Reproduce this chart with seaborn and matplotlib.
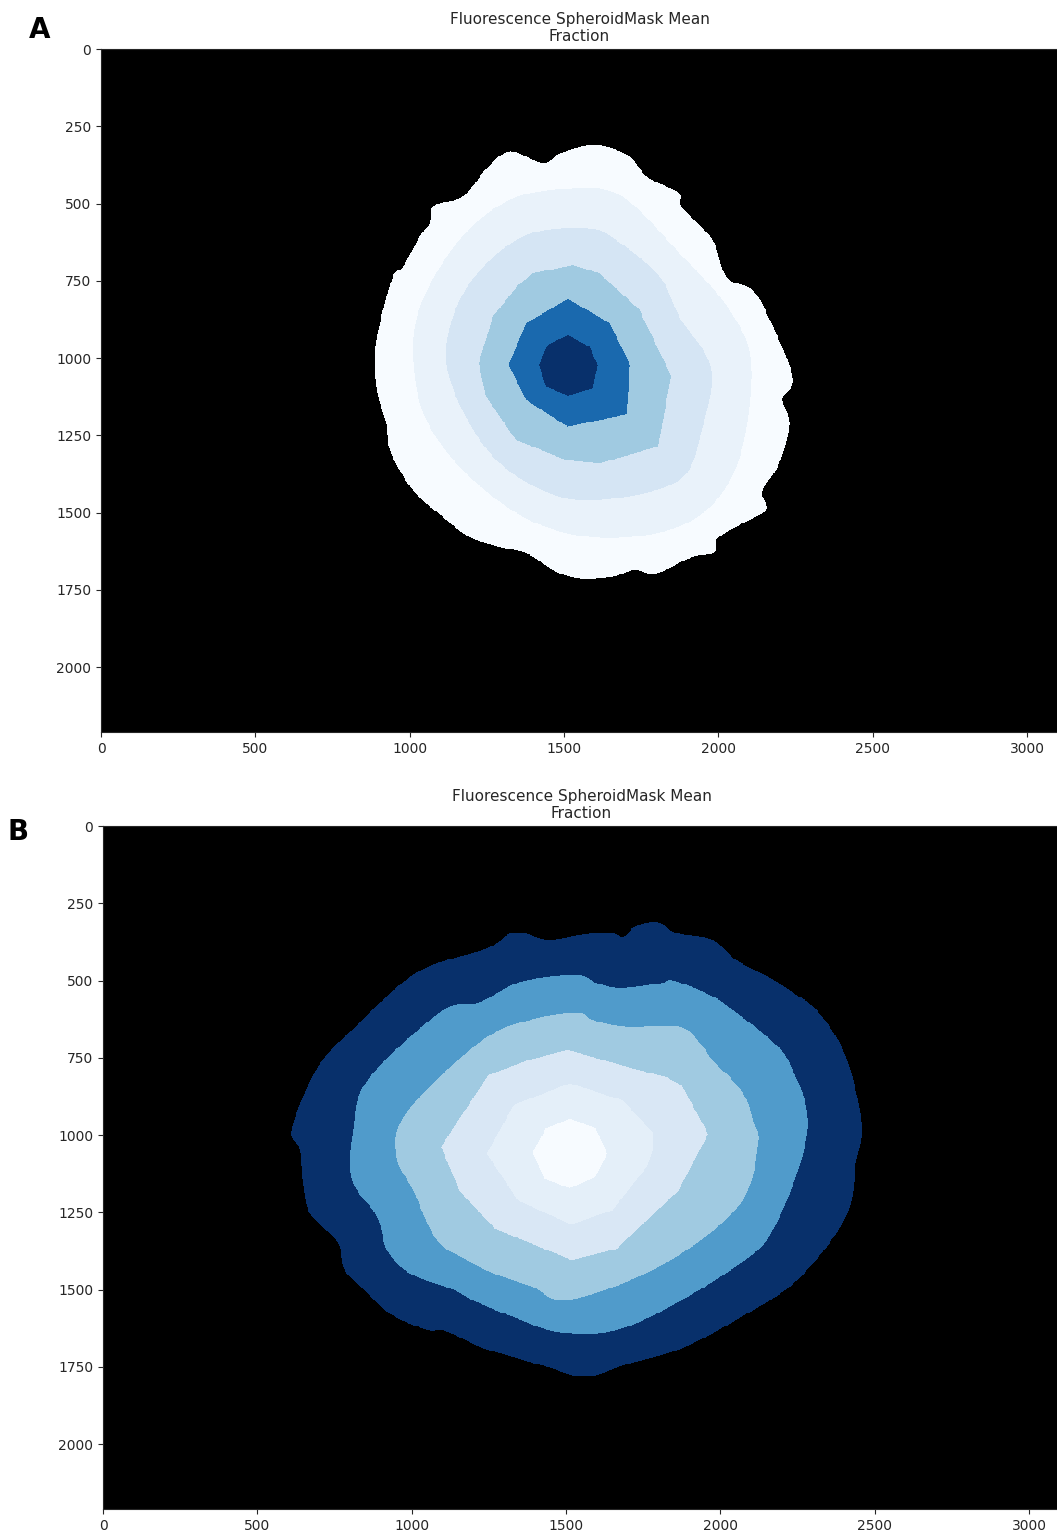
import numpy as np
import matplotlib
matplotlib.use("Agg")
import matplotlib.pyplot as plt
from matplotlib.path import Path
import seaborn as sns

# ---------------------------------------------------------------- data
IMG_W, IMG_H = 3100, 2210
X_TICKS = [0, 500, 1000, 1500, 2000, 2500, 3000]
Y_TICKS = [0, 250, 500, 750, 1000, 1250, 1500, 1750, 2000]
TITLE = "Fluorescence SpheroidMask Mean\nFraction"
PANELS = ["A", "B"]

# Spheroid A: ring outlines as radius profiles (angle in degrees, image y downwards)
A_CENTER = (1513, 1023)
A_FRACTION = [0.0, 0.07, 0.17, 0.37, 0.78, 1.0]      # outer ring -> core
A_RING1_ANG = [0, 5, 9, 15, 25, 33, 36, 42, 49, 52, 57, 67, 72, 78, 87, 94, 102, 111,
               120, 129, 141, 154, 162, 171, 180, 187, 197, 207, 211, 221, 226, 230,
               238, 248, 255, 263, 268, 277, 286, 293, 303, 306, 319, 331, 338, 347]
A_RING1_RAD = [718, 731, 705, 743, 756, 751, 796, 765, 742, 770, 741, 733, 697, 701,
               692, 666, 625, 629, 642, 637, 645, 640, 618, 624, 626, 626, 625, 635,
               622, 635, 642, 674, 643, 691, 716, 658, 686, 717, 706, 661, 663, 631,
               620, 588, 647, 670]
A_RING2_ANG = [0, 30, 51, 75, 101, 131, 159, 183, 203, 229, 251, 272, 288, 315, 341]
A_RING2_RAD = [594, 636, 645, 580, 523, 482, 492, 502, 515, 536, 567, 572, 573, 512, 553]
A_RING3_ANG = [1, 25, 46, 77, 100, 129, 164, 190, 220, 251, 278, 291, 316, 337]
A_RING3_RAD = [464, 481, 519, 449, 416, 383, 376, 399, 414, 441, 447, 434, 413, 394]
A_RING4_ANG = [6, 42, 72, 91, 125, 159, 181, 213, 237, 249, 273, 289, 322]
A_RING4_RAD = [337, 394, 335, 308, 295, 284, 289, 289, 303, 318, 324, 314, 293]
A_RING5_ANG = [0, 40, 90, 140, 180, 225, 270, 315]
A_RING5_RAD = [202, 248, 200, 176, 192, 191, 214, 192]
A_RING6_ANG = [0, 43, 90, 135, 180, 225, 270, 320]
A_RING6_RAD = [97, 111, 99, 99, 94, 92, 97, 92]

# Spheroid B
B_CENTER = (1513, 1060)
B_FRACTION = [1.0, 0.58, 0.37, 0.15, 0.09, 0.0]
B_RING1_ANG = [2, 13, 29, 44, 60, 75, 86, 96, 106, 115, 125, 129, 138, 146, 153, 159,
               167, 174, 181, 185, 199, 211, 230, 248, 256, 264, 273, 280, 284, 286,
               291, 296, 304, 311, 319, 324, 330, 339, 349, 356]
B_RING1_RAD = [928, 918, 844, 766, 728, 707, 725, 695, 684, 691, 702, 735, 779, 798,
               822, 805, 864, 870, 875, 905, 863, 805, 767, 716, 738, 695, 708, 727,
               722, 764, 800, 793, 832, 827, 864, 890, 925, 947, 950, 949]
B_RING2_ANG = [18, 33, 70, 92, 109, 123, 131, 143, 152, 162, 173, 186, 200, 228, 239,
               254, 272, 279, 287, 298, 301, 312, 319, 330, 338, 354]
B_RING2_RAD = [708, 657, 591, 581, 560, 569, 582, 647, 670, 658, 711, 706, 697, 620,
               570, 578, 578, 559, 560, 624, 653, 687, 704, 745, 770, 776]
B_RING3_ANG = [17, 50, 90, 106, 123, 134, 147, 167, 179, 194, 231, 253, 273, 280,
               294, 311, 320, 327, 336, 343, 350, 357]
B_RING3_RAD = [574, 470, 474, 448, 461, 480, 514, 522, 561, 546, 464, 451, 456, 438,
               449, 543, 553, 553, 579, 599, 603, 612]
B_RING4_ANG = [19, 64, 89, 135, 161, 183, 224, 247, 269, 303, 322, 329, 352]
B_RING4_RAD = [372, 344, 345, 344, 377, 418, 366, 330, 335, 335, 400, 425, 453]
B_RING5_ANG = [9, 53, 89, 138, 180, 221, 270, 315, 346, 357]
B_RING5_RAD = [255, 230, 230, 227, 269, 240, 227, 243, 278, 270]
B_RING6_ANG = [0, 42, 90, 136, 182, 226, 270, 316]
B_RING6_RAD = [121, 113, 113, 116, 120, 112, 113, 117]

A_RINGS = [(A_RING1_ANG, A_RING1_RAD), (A_RING2_ANG, A_RING2_RAD),
           (A_RING3_ANG, A_RING3_RAD), (A_RING4_ANG, A_RING4_RAD),
           (A_RING5_ANG, A_RING5_RAD), (A_RING6_ANG, A_RING6_RAD)]
B_RINGS = [(B_RING1_ANG, B_RING1_RAD), (B_RING2_ANG, B_RING2_RAD),
           (B_RING3_ANG, B_RING3_RAD), (B_RING4_ANG, B_RING4_RAD),
           (B_RING5_ANG, B_RING5_RAD), (B_RING6_ANG, B_RING6_RAD)]

# outer rings are drawn as smooth closed curves, the inner ones stay polygonal
SMOOTH_RINGS = 3


# ---------------------------------------------------------------- helpers
def catmull_rom_closed(verts, samples=10):
    n = len(verts)
    t = np.linspace(0, 1, samples, endpoint=False)[:, None]
    out = []
    for i in range(n):
        p0, p1, p2, p3 = verts[i - 1], verts[i], verts[(i + 1) % n], verts[(i + 2) % n]
        seg = 0.5 * ((2 * p1) + (-p0 + p2) * t + (2 * p0 - 5 * p1 + 4 * p2 - p3) * t ** 2
                     + (-p0 + 3 * p1 - 3 * p2 + p3) * t ** 3)
        out.append(seg)
    return np.vstack(out)


def ring_path(center, angles, radii, smooth):
    order = np.argsort(angles)
    th = np.deg2rad(np.asarray(angles, float)[order])
    r = np.asarray(radii, float)[order]
    verts = np.column_stack([center[0] + r * np.cos(th), center[1] + r * np.sin(th)])
    if smooth:
        verts = catmull_rom_closed(verts)
    return Path(np.vstack([verts, verts[:1]]), closed=True)


def fraction_image(center, rings, fractions, step=3):
    xs = np.arange(0, IMG_W, step) + step / 2
    ys = np.arange(0, IMG_H, step) + step / 2
    gx, gy = np.meshgrid(xs, ys)
    pts = np.column_stack([gx.ravel(), gy.ravel()])
    img = np.full(gx.size, np.nan)
    for k, ((ang, rad), frac) in enumerate(zip(rings, fractions)):
        inside = ring_path(center, ang, rad, k < SMOOTH_RINGS).contains_points(pts)
        img[inside] = frac
    return np.ma.masked_invalid(img.reshape(gx.shape))


# ---------------------------------------------------------------- figure
sns.set_style("ticks")
plt.rcParams["font.family"] = ["DejaVu Sans"]

W, H = 1057, 1532
fig = plt.figure(figsize=(W / 100, H / 100), dpi=100)

cmap = sns.color_palette("Blues", as_cmap=True).copy()
cmap.set_bad("black")

layout = {
    "A": dict(left=101, top=49, label_xy=(40, 30)),
    "B": dict(left=103, top=826, label_xy=(18, 832)),
}
data = {
    "A": (A_CENTER, A_RINGS, A_FRACTION),
    "B": (B_CENTER, B_RINGS, B_FRACTION),
}

ax_w, ax_h = 957, 683
for name in PANELS:
    lay = layout[name]
    ax = fig.add_axes([lay["left"] / W, 1 - (lay["top"] + ax_h) / H, ax_w / W, ax_h / H])
    center, rings, fracs = data[name]
    img = fraction_image(center, rings, fracs)
    ax.imshow(img, cmap=cmap, vmin=0, vmax=1, extent=(0, IMG_W, IMG_H, 0),
              interpolation="nearest", aspect="auto")
    ax.set_facecolor("black")
    ax.set_xlim(0, IMG_W)
    ax.set_ylim(IMG_H, 0)
    ax.set_xticks(X_TICKS)
    ax.set_yticks(Y_TICKS)
    ax.tick_params(labelsize=10, length=3.5, width=0.8)
    for sp in ax.spines.values():
        sp.set_linewidth(0.8)
    ax.set_title(TITLE, fontsize=11, pad=6, linespacing=1.1)
    fig.text(lay["label_xy"][0] / W, 1 - lay["label_xy"][1] / H, name,
             fontsize=20, fontweight="bold", ha="center", va="center", color="black")

fig.savefig("out.png", dpi=100)
